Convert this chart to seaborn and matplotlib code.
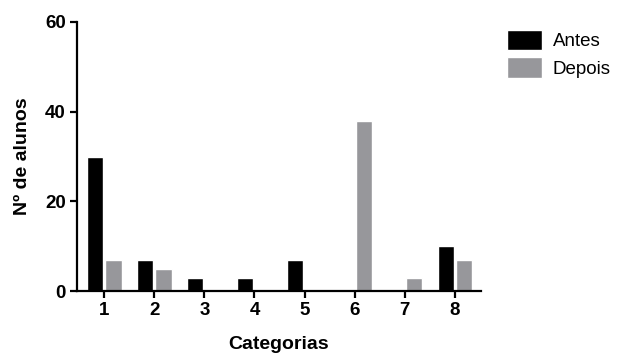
import pandas as pd
import matplotlib.pyplot as plt
import seaborn as sns

# categorias no eixo x
categorias = ['1', '2', '3', '4', '5', '6', '7', '8']
antes = [30, 7, 3, 3, 7, 0, 0, 10]
depois = [7, 5, 0, 0, 0, 38, 3, 7]
grupos = ['Antes', 'Depois']
yticks = [0, 20, 40, 60]

df = pd.DataFrame({
    'Categorias': categorias * 2,
    'Alunos': antes + depois,
    'Grupo': [grupos[0]] * len(antes) + [grupos[1]] * len(depois),
})

sns.set_style('ticks')
plt.rcParams['font.family'] = ['Liberation Sans', 'DejaVu Sans']
plt.rcParams['text.color'] = 'black'
plt.rcParams['axes.labelcolor'] = 'black'
plt.rcParams['xtick.color'] = 'black'
plt.rcParams['ytick.color'] = 'black'

fig = plt.figure(figsize=(6.24, 3.61), dpi=100)
ax = fig.add_axes([77 / 624, 1 - 291 / 361, (481 - 77) / 624, (291 - 22) / 361])

sns.barplot(data=df, x='Categorias', y='Alunos', hue='Grupo', order=categorias,
            hue_order=grupos, palette=['#000000', '#97979b'], width=0.74, gap=0.12,
            saturation=1, ax=ax, legend=True)

ax.set_ylim(0, 60)
ax.set_xlim(-0.54, 7.52)
ax.set_yticks(yticks)
ax.set_xlabel('Categorias', fontsize=14, fontweight='bold', labelpad=12)
ax.set_ylabel('Nº de alunos', fontsize=14, fontweight='bold', labelpad=10)
for lbl in ax.get_xticklabels() + ax.get_yticklabels():
    lbl.set_fontweight('bold')
ax.tick_params(axis='both', labelsize=13.5, width=1.6, length=5, color='black', pad=3)
sns.despine(ax=ax)
for s in ['left', 'bottom']:
    ax.spines[s].set_linewidth(1.6)
    ax.spines[s].set_color('black')

handles, labels = ax.get_legend_handles_labels()
ax.get_legend().remove()
fig.legend(handles, labels, loc='upper left', bbox_to_anchor=(507 / 624, 1 - 30 / 361),
           frameon=False, fontsize=13.5, borderpad=0, borderaxespad=0,
           handlelength=1.85, handleheight=1.3, handletextpad=0.6, labelspacing=0.35)

fig.savefig('out.png', dpi=100, facecolor='white')
